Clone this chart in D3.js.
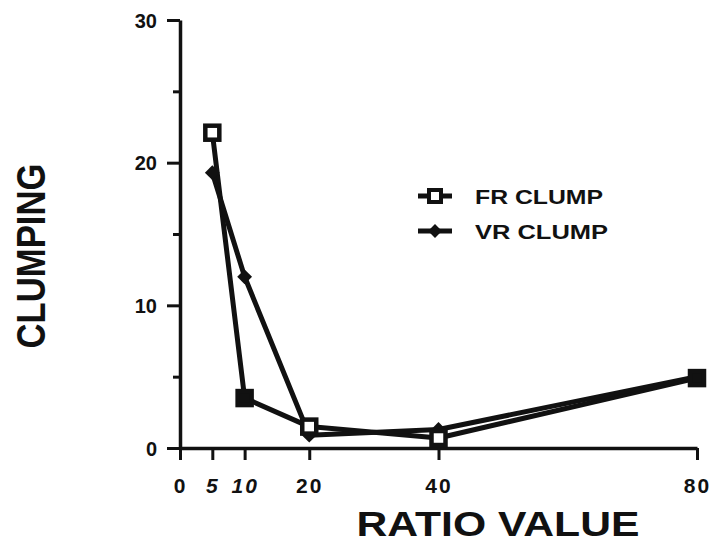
<!DOCTYPE html>
<html>
<head>
<meta charset="utf-8">
<script src="https://cdn.jsdelivr.net/npm/d3@7/dist/d3.min.js"></script>
<style>
  body { margin: 0; background: #fff; }
  svg { display: block; }
  text { font-family: "Liberation Sans", Arial, sans-serif; font-weight: bold; fill: #111; }
</style>
</head>
<body>
<svg id="chart"></svg>
<script>
// chart data
const ratios = [5, 10, 20, 40, 80];
const fr_clump = [22.1, 3.5, 1.5, 0.7, 4.9];
const vr_clump = [19.3, 12.0, 0.9, 1.3, 5.0];
const x_ticks = [0, 5, 10, 20, 40, 80];
const y_ticks = [0, 10, 20, 30];
const y_minor = [5, 15, 25];
const series_names = ["FR CLUMP", "VR CLUMP"];

function draw_chart() {
    let width = 717;
    let height = 543;

    const svg = d3.select("#chart")
        .attr("width", width)
        .attr("height", height);

    let x = d3.scaleLinear().domain([0, 80]).range([180, 697]);
    let y = d3.scaleLinear().domain([0, 30]).range([448, 20]);

    // y axis, major + minor ticks
    const y_axis = svg.append("g")
        .attr("transform", "translate(180,0)")
        .call(d3.axisLeft(y).tickValues(y_ticks).tickSize(13).tickSizeOuter(0).tickPadding(10));
    y_axis.select(".domain").attr("stroke", "#111").attr("stroke-width", 3.5);
    y_axis.selectAll(".tick line").attr("stroke", "#111").attr("stroke-width", 3);
    y_axis.selectAll(".tick text").style("font-size", "20px").attr("dy", "0.35em");

    const y_minor_axis = svg.append("g")
        .attr("transform", "translate(180,0)")
        .call(d3.axisLeft(y).tickValues(y_minor).tickSize(7).tickFormat(""));
    y_minor_axis.select(".domain").remove();
    y_minor_axis.selectAll(".tick line").attr("stroke", "#111").attr("stroke-width", 3);

    // x axis
    const x_axis = svg.append("g")
        .attr("transform", `translate(0,${y(0)})`)
        .call(d3.axisBottom(x).tickValues(x_ticks).tickSize(12).tickSizeOuter(0).tickPadding(18));
    x_axis.select(".domain").attr("stroke", "#111").attr("stroke-width", 3.5);
    x_axis.selectAll(".tick line").attr("stroke", "#111").attr("stroke-width", 3);
    x_axis.selectAll(".tick text")
        .style("font-size", "21px")
        .style("font-style", d => (d === 5 || d === 10) ? "italic" : "normal")
        .style("letter-spacing", "2px");

    // axis titles
    svg.append("text")
        .attr("x", 498)
        .attr("y", 536)
        .attr("text-anchor", "middle")
        .attr("textLength", 283)
        .attr("lengthAdjust", "spacingAndGlyphs")
        .style("font-size", "35px")
        .text("RATIO VALUE");

    svg.append("text")
        .attr("transform", "translate(45,256) rotate(-90)")
        .attr("text-anchor", "middle")
        .attr("textLength", 185)
        .attr("lengthAdjust", "spacingAndGlyphs")
        .style("font-size", "40px")
        .text("CLUMPING");

    // lines
    const line = d3.line()
        .x((d, i) => x(ratios[i]))
        .y(d => y(d));

    const plot_g = svg.append("g");

    [fr_clump, vr_clump].forEach(values => {
        plot_g.append("path")
            .datum(values)
            .attr("fill", "none")
            .attr("stroke", "#111")
            .attr("stroke-width", 5)
            .attr("stroke-linejoin", "round")
            .attr("d", line);
    });

    // square turned 45 degrees = diamond as wide as tall
    const diamond = d3.symbol().type(d3.symbolSquare).size(110);

    // VR markers (filled diamonds)
    plot_g.selectAll(".vr")
        .data(vr_clump)
        .join("path")
        .attr("class", "vr")
        .attr("transform", (d, i) => `translate(${x(ratios[i])},${y(d)}) rotate(45)`)
        .attr("d", diamond)
        .attr("fill", "#111");

    // FR markers (open squares; the scan shows the 10 and 80 ones inked solid)
    plot_g.selectAll(".fr")
        .data(fr_clump)
        .join("rect")
        .attr("class", "fr")
        .attr("x", (d, i) => x(ratios[i]) - 7)
        .attr("y", d => y(d) - 7)
        .attr("width", 14)
        .attr("height", 14)
        .attr("fill", (d, i) => (ratios[i] === 10 || ratios[i] === 80) ? "#111" : "#fff")
        .attr("stroke", "#111")
        .attr("stroke-width", 4.5);

    // legend
    const legend = svg.append("g").attr("transform", "translate(418,196)");
    series_names.forEach((name, i) => {
        const g = legend.append("g").attr("transform", `translate(0,${i * 35})`);
        g.append("line")
            .attr("x1", 0).attr("x2", 34)
            .attr("stroke", "#111").attr("stroke-width", 5);
        if (i === 0) {
            g.append("rect")
                .attr("x", 11).attr("y", -6)
                .attr("width", 12).attr("height", 12)
                .attr("fill", "#fff").attr("stroke", "#111").attr("stroke-width", 4);
        } else {
            g.append("path")
                .attr("transform", "translate(17,0) rotate(45)")
                .attr("d", d3.symbol().type(d3.symbolSquare).size(95))
                .attr("fill", "#111");
        }
        g.append("text")
            .attr("x", 57)
            .attr("y", 8)
            .attr("textLength", i === 0 ? 128 : 133)
            .attr("lengthAdjust", "spacingAndGlyphs")
            .style("font-size", "21px")
            .text(name);
    });
}

draw_chart();
</script>
</body>
</html>
